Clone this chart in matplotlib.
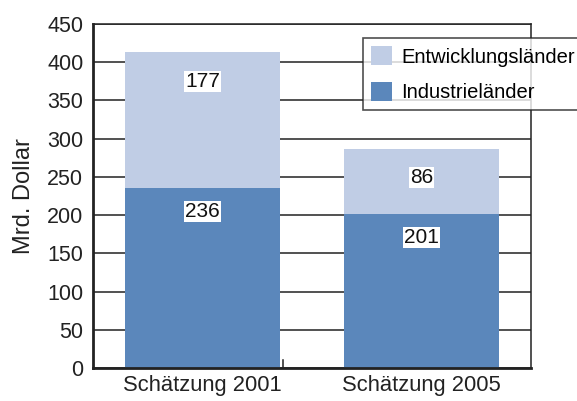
import matplotlib
matplotlib.use("Agg")
import matplotlib.pyplot as plt

# ─── data ─────────────────────────────────────────────────────────────────────
categories = ["Schätzung 2001", "Schätzung 2005"]
industrie = [236, 201]
entwicklung = [177, 86]
series_names = ["Entwicklungsländer", "Industrieländer"]
y_ticks = [0, 50, 100, 150, 200, 250, 300, 350, 400, 450]

LIGHT = "#c0cde5"
DARK = "#5b87bb"

plt.rcParams["font.family"] = ["Liberation Sans", "DejaVu Sans"]

fig = plt.figure(figsize=(5.77, 4.01), dpi=100)
ax = fig.add_axes([93 / 577, 1 - 368 / 401, (531 - 93) / 577, (368 - 24) / 401])

x = list(range(len(categories)))
width = 0.71

# gridlines behind bars
for t in y_ticks:
    ax.axhline(t, color="#222222", lw=1.1, zorder=0)

b1 = ax.bar(x, industrie, width, color=DARK, zorder=2, label=series_names[1])
b2 = ax.bar(x, entwicklung, width, bottom=industrie, color=LIGHT, zorder=2,
            label=series_names[0])

box = dict(boxstyle="square,pad=0.05", fc="white", ec="none")
for i in x:
    ax.annotate(str(industrie[i]), (i, industrie[i]), xytext=(0, -17),
                textcoords="offset points", ha="center", va="center",
                fontsize=15, color="#111111", bbox=box, zorder=3)
    top = industrie[i] + entwicklung[i]
    ax.annotate(str(entwicklung[i]), (i, top), xytext=(0, -21),
                textcoords="offset points", ha="center", va="center",
                fontsize=15, color="#111111", bbox=box, zorder=3)

ax.set_xlim(-0.5, 1.5)
ax.set_ylim(0, 450)
ax.set_yticks(y_ticks)
ax.tick_params(axis="y", length=0, pad=7, labelsize=15.5, colors="#222222")
ax.set_xticks(x)
ax.set_xticklabels(categories, fontsize=15.8, color="#222222")
ax.tick_params(axis="x", length=0, pad=5)
# small separator tick at the bottom
ax.plot([0.368, 0.368], [0, 10], color="#222222", lw=1.1, zorder=3)

ax.set_ylabel("Mrd. Dollar", fontsize=17, color="#222222", labelpad=9)

for s in ["left", "bottom"]:
    ax.spines[s].set_linewidth(2)
    ax.spines[s].set_color("#222222")
for s in ["right", "top"]:
    ax.spines[s].set_linewidth(1.1)
    ax.spines[s].set_color("#222222")

leg = ax.legend(handles=[b2, b1], loc="upper left",
                bbox_to_anchor=((363 - 93) / 438, 1 - (38 - 24) / 344),
                frameon=True, fancybox=False, fontsize=14.5, handlelength=1.05,
                handleheight=1.1, borderpad=0.4, labelspacing=0.75,
                handletextpad=0.45, borderaxespad=0)
leg.get_frame().set_edgecolor("#222222")
leg.get_frame().set_linewidth(1.2)
leg.set_zorder(5)

fig.savefig("out.png", dpi=100)
